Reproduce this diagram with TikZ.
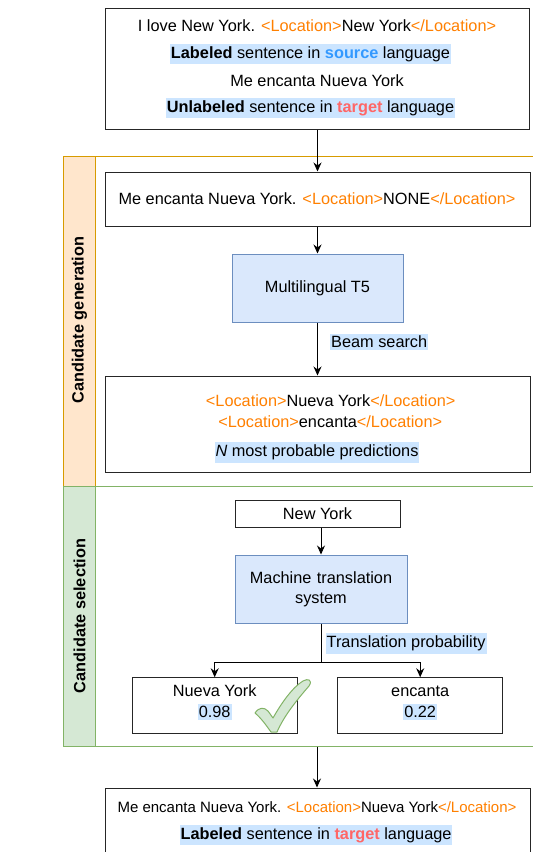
\documentclass[tikz,border=0pt]{standalone}
\usepackage{fontspec}
\setmainfont{Liberation Sans}
\definecolor{orng}{HTML}{FF8000}
\definecolor{srcblue}{HTML}{3399FF}
\definecolor{tgtred}{HTML}{FF6666}
\definecolor{hl}{HTML}{CCE5FF}
\definecolor{bluefill}{HTML}{DAE8FC}
\definecolor{bluedraw}{HTML}{6C8EBF}
\definecolor{orfill}{HTML}{FFE6CC}
\definecolor{ordraw}{HTML}{D79B00}
\definecolor{grfill}{HTML}{D5E8D4}
\definecolor{grdraw}{HTML}{82B366}
\newcommand{\tg}[1]{\textcolor{orng}{#1}}
\tikzset{
  box/.style={draw=black!85, line width=1pt, fill=white, inner sep=0pt},
  model/.style={draw=bluedraw, line width=1pt, fill=bluefill, inner sep=0pt, align=center},
  txt/.style={inner sep=0pt, anchor=center},
  hltxt/.style={fill=hl, inner xsep=1pt, inner ysep=2.5pt},
  arr/.style={-{Stealth[length=9pt,width=8pt,inset=3pt]}, line width=1pt},
  lane/.style={line width=1.2pt},
  lanelabel/.style={rotate=90, font=\fontsize{16.3}{19}\selectfont\bfseries, inner sep=0pt},
}
\usetikzlibrary{arrows.meta}
\begin{document}
\begin{tikzpicture}[x=1pt, y=-1pt, font=\fontsize{16.3}{19}\selectfont]
\useasboundingbox (0,0) rectangle (533,852);
\clip (0,0) rectangle (533,852);
\fill[white] (0,0) rectangle (533,852);

% swimlanes
\draw[lane, draw=ordraw, fill=white] (95.3,156.7) rectangle (545,486.5);
\draw[lane, draw=ordraw, fill=orfill] (63.8,156.7) rectangle (95.3,486.5);
\node[lanelabel] (lane1) at (79.5,320) {Candidate generation};
\draw[lane, draw=grdraw, fill=white] (95.3,486.5) rectangle (545,746.5);
\draw[lane, draw=grdraw, fill=grfill] (63.8,486.5) rectangle (95.3,746.5);
\node[lanelabel] (lane2) at (79.5,616) {Candidate selection};

% top box
\node[box, minimum width=424pt, minimum height=121pt] (top) at (317,68.5) {};
\node[txt] (t1) at (317,26) {I love New York. \tg{<Location>}New York\tg{</Location>}};
\node[txt, hltxt] (t2) at (310.5,54) {\textbf{Labeled} sentence in \textcolor{srcblue}{\textbf{source}} language};
\node[txt] (t3) at (317,80.5) {Me encanta Nueva York};
\node[txt, hltxt] (t4) at (310.5,108) {\textbf{Unlabeled} sentence in \textcolor{tgtred}{\textbf{target}} language};

% candidate generation
\node[box, minimum width=425pt, minimum height=54pt] (inp) at (317.5,199) {};
\node[txt] (inptxt) at (317,198.5) {Me encanta Nueva York. \tg{<Location>}NONE\tg{</Location>}};
\node[model, minimum width=171pt, minimum height=68pt] (t5) at (317.5,288) {Multilingual T5};
\node[box, minimum width=425pt, minimum height=96pt] (pred) at (317.5,424) {};
\node[txt] (p1) at (330.7,400.5) {\tg{<Location>}Nueva York\tg{</Location>}};
\node[txt] (p2) at (330.2,421.5) {\tg{<Location>}encanta\tg{</Location>}};
\node[txt, hltxt] (p3) at (317,452.5) {\textit{N} most probable predictions};

\draw[arr] (top.south -| inp.north) -- (inp.north);
\draw[arr] (inp.south) -- (t5.north);
\draw[arr] (t5.south) -- (pred.north);
\node[txt, hltxt, anchor=west] (beam) at (330,342) {Beam search};

% candidate selection
\node[box, minimum width=165pt, minimum height=27pt] (ny) at (317.5,513.5) {New York};
\node[model, minimum width=172pt, minimum height=68pt, text width=165pt] (mt) at (321,589) {Machine translation\\[1pt] system};
\draw[arr] (ny.south -| mt.north) -- (mt.north);
\node[txt, hltxt, anchor=west] (tp) at (325.5,643.5) {Translation probability};

\node[box, minimum width=165pt, minimum height=55.5pt] (c1) at (214.7,705.5) {};
\node[txt] (c1a) at (214.7,691) {Nueva York};
\node[txt, hltxt] (c1b) at (214.7,712) {0.98};
\node[box, minimum width=165pt, minimum height=55.5pt] (c2) at (420.2,705.5) {};
\node[txt] (c2a) at (420.2,691) {encanta};
\node[txt, hltxt] (c2b) at (420.2,712) {0.22};

\coordinate (br) at (321,662);
\draw[line width=1pt] (mt.south) -- (br);
\draw[arr] (br) -| (c1.north);
\draw[arr] (br) -| (c2.north);

% check mark
\draw[draw=grdraw, fill=grfill, line width=1pt, line join=round]
  (255,713) .. controls (259,707) and (264,707) .. (268,711)
  -- (273,718) .. controls (282,702) and (293,687) .. (303,681)
  .. controls (308,678) and (313,680) .. (309,686)
  .. controls (296,701) and (284,716) .. (277,732)
  -- (271,732) .. controls (266,725) and (261,718) .. (255,713) -- cycle;

% output
\node[box, minimum width=425pt, minimum height=80pt, anchor=north] (out) at (317.5,787.5) {};
\draw[arr] (317,746.5) -- (out.north -| 317,0);
\node[txt, font=\fontsize{15}{18}\selectfont] (o1) at (317,807.5) {Me encanta Nueva York. \tg{<Location>}Nueva York\tg{</Location>}};
\node[txt, hltxt] (o2) at (316,835) {\textbf{Labeled} sentence in \textcolor{tgtred}{\textbf{target}} language};
\end{tikzpicture}
\end{document}
